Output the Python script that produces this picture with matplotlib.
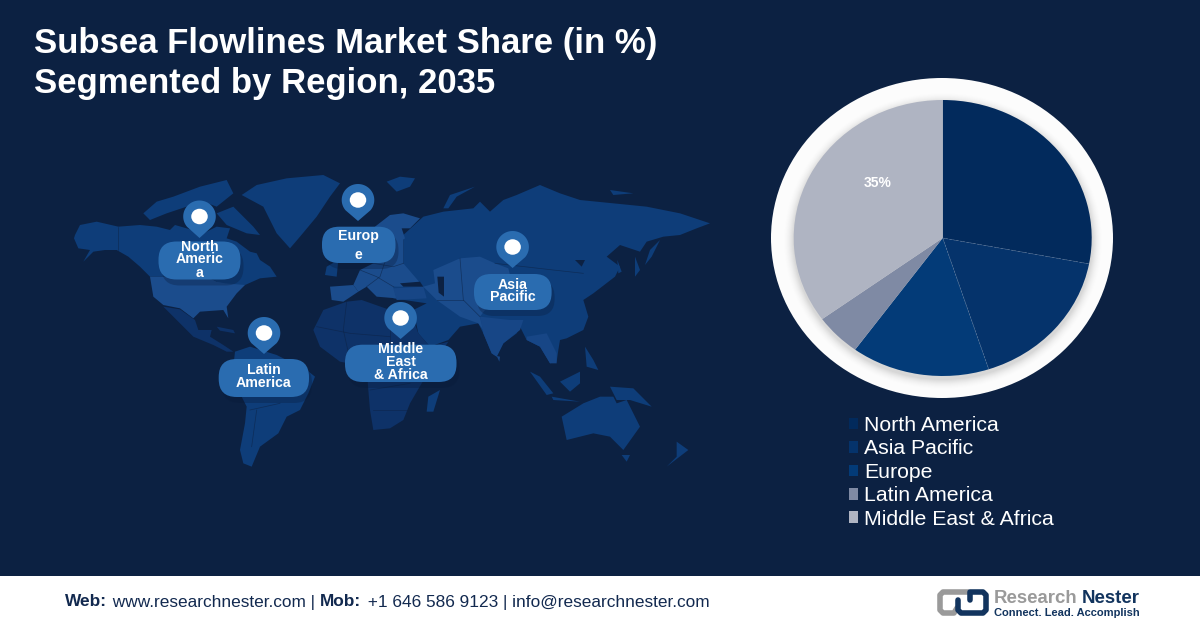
import numpy as np
import matplotlib
matplotlib.use('Agg')
import matplotlib.pyplot as plt
from matplotlib.patches import Polygon, Ellipse, FancyBboxPatch, Rectangle, Patch
from matplotlib.transforms import Affine2D

plt.rcParams['font.family'] = ['Liberation Sans', 'DejaVu Sans']

# chart data
regions = ['North America', 'Asia Pacific', 'Europe', 'Latin America', 'Middle East & Africa']
shares = [28, 17, 15, 5, 35]
colors = ['#022a5c', '#05336b', '#033b78', '#7f8aa4', '#afb4c2']

title_lines = ['Subsea Flowlines Market Share (in %)', 'Segmented by Region, 2035']

BG = '#0c2142'
LAND = '#0e3d79'
LAND2 = '#1b4c8c'
LAND3 = '#0e3268'
LAND4 = '#174686'
PIN = '#2a6cb0'
NAVY = '#12294f'

# map outlines, traced on two 3x crops: west has origin (60,170), east has origin (380,170)
west_shapes = [
    (LAND, [(45,195),(60,165),(110,155),(175,170),(240,165),(290,170),(330,180),(345,165),(380,175),(430,190),(470,170),
            (510,175),(500,205),(530,215),(570,245),(590,250),(600,270),(630,290),(650,320),(600,325),(555,345),(500,350),
            (470,335),(440,320),(270,320),(240,290),(205,260),(170,240),(135,240),(100,245),(70,275),(90,240),(55,235),(42,205)]),
    (LAND, [(250,130),(290,95),(340,80),(420,50),(500,30),(520,70),(470,110),(430,95),(380,110),(320,130),(270,150)]),
    (LAND, [(470,130),(520,110),(580,170),(600,195),(560,190),(500,165)]),
    (LAND2, [(270,320),(440,320),(470,335),(495,340),(555,345),(530,370),(500,410),(505,445),(490,420),(420,425),(400,445),
             (360,415),(310,405),(280,380)]),
    (LAND3, [(310,410),(360,418),(405,450),(415,480),(455,480),(450,500),(490,525),(520,545),(500,545),(460,525),(400,500),(350,450)]),
    (LAND3, [(470,470),(520,480),(525,490),(480,482)]),
    (LAND, [(525,545),(570,530),(650,555),(740,600),(765,620),(745,670),(720,720),(680,740),(655,790),(600,830),(575,890),
            (550,880),(540,840),(555,760),(560,710),(525,640),(520,590)]),
    (LAND, [(545,75),(590,45),(680,25),(790,15),(840,40),(810,80),(770,140),(720,200),(690,235),(650,190),(610,110)]),
]
east_shapes = [
    (LAND, [(20,35),(60,20),(105,25),(90,50),(50,65)]),
    (LAND, [(190,115),(210,75),(285,50),(230,80),(205,115)]),
    (LAND, [(690,60),(760,70),(700,75)]),
    (LAND, [(70,195),(130,140),(190,125),(280,115),(300,95),(330,125),(370,90),(410,75),(480,45),(540,70),(600,90),(700,100),
            (800,110),(900,130),(990,160),(950,175),(900,195),(850,200),(800,215),(780,245),(720,225),(680,260),(720,290),
            (705,320),(640,370),(610,390),(625,440),(610,480),(560,505),(540,510),(535,540),(530,575),(510,580),(480,530),
            (440,510),(420,470),(410,490),(370,520),(350,560),(335,550),(310,490),(295,460),(240,470),(205,510),(150,530),
            (115,490),(100,420),(140,400),(40,385),(40,350),(70,340),(70,280)]),
    (LAND3, [(-200,480),(-170,420),(-100,395),(-55,390),(30,420),(90,420),(115,490),(150,530),(205,515),(125,640),(90,700),
             (70,750),(30,775),(-20,780),(-30,720),(-35,660),(-40,590),(-120,575),(-180,530)]),
    (LAND2, [(-80,345),(-60,300),(-20,280),(-30,240),(30,230),(70,200),(70,280),(130,350),(40,350),(50,385),(-10,380),
             (-40,350),(-65,365)]),
    (LAND2, [(-150,350),(-80,345),(-65,365),(-110,395),(-145,390)]),
    (LAND, [(-160,290),(-125,270),(-130,320),(-165,315)]),
    (LAND2, [(-15,170),(30,135),(70,130),(120,145),(90,175),(65,175),(75,205),(30,235),(0,230),(-30,200)]),
    (LAND4, [(40,355),(130,350),(140,385),(50,390)]),
    (BG, [(60,340),(120,335),(130,350),(70,350)]),
    (LAND2, [(160,300),(240,265),(300,260),(345,280),(385,295),(390,315),(340,330),(330,400),(300,440),(310,480),(295,460),
             (240,440),(170,390),(130,350),(165,340)]),
    (BG, [(172,320),(192,320),(192,380),(176,368)]),
    (BG, [(585,270),(615,270),(605,290)]),
    (LAND4, [(300,440),(390,450),(430,450),(420,480),(370,520),(350,560),(335,550),(310,490)]),
    (LAND4, [(440,500),(500,490),(530,550),(530,580),(510,580),(480,530),(440,510)]),
    (LAND, [(145,680),(180,660),(160,725),(140,725)]),
    (LAND, [(545,740),(610,700),(660,680),(700,680),(710,700),(740,690),(780,770),(730,840),(690,800),(640,790),(560,810)]),
    (LAND, [(725,855),(750,855),(740,875)]),
    (LAND, [(890,815),(925,840),(860,890),(890,860)]),
    (LAND, [(450,605),(480,620),(520,670),(500,675)]),
    (LAND, [(540,635),(600,605),(600,640),(570,665)]),
    (LAND, [(515,680),(600,695),(520,690)]),
    (LAND, [(690,650),(760,655),(815,710),(750,690),(710,690)]),
    (LAND, [(615,530),(640,570),(655,600),(620,590)]),
    (LAND, [(795,285),(810,240),(840,210),(815,260)]),
    (LAND, [(765,260),(780,300),(765,320)]),
    (LAND, [(712,270),(725,305),(715,310)]),
    (LAND4, [(350,558),(360,560),(358,575)]),
]
east_borders = [
    [(-60,300),(-10,320),(40,350)], [(-40,350),(0,320),(30,230)], [(-20,280),(40,290),(70,280)],
    [(-190,470),(-90,490),(30,500)], [(-100,395),(-110,480),(-90,570)], [(30,420),(30,600)],
    [(-30,660),(90,640)], [(-20,720),(80,720)], [(240,265),(250,390),(300,440)], [(170,390),(250,390)],
    [(345,280),(520,300),(610,310)],
]
west_borders = [
    [(530,640),(640,610),(740,640)], [(570,720),(660,700)], [(575,830),(590,720)], [(175,170),(175,240)],
]

# pin position, pill box and label lines (pixel coordinates)
markers = [
    (199.5, 216.5, 238, 158.5, 241.5, 82, 38, [('North', 246.7), ('Americ', 259), ('a', 273)]),
    (358, 200, 221, 322, 226.7, 73.5, 36.3, [('Europ', 236), ('e', 254.7)]),
    (512.6, 247, 268, 474, 274, 77.6, 36, [('Asia', 284.7), ('Pacific', 297)]),
    (264, 333, 354, 218.7, 359, 90.3, 38, [('Latin', 370), ('America', 383)]),
    (400.6, 318, 339, 345, 344.7, 111.5, 37.3, [('Middle', 349), ('East', 362), ('& Africa', 375)]),
]


def draw_map(ax):
    for ox, shapes, borders in ((60, west_shapes, west_borders), (380, east_shapes, east_borders)):
        for col, pts in shapes:
            xy = [(ox + x / 3.0, 170 + y / 3.0) for x, y in pts]
            ax.add_patch(Polygon(xy, closed=True, fc=col, ec='none', zorder=1))
        for pts in borders:
            xy = np.array([(ox + x / 3.0, 170 + y / 3.0) for x, y in pts])
            ax.plot(xy[:, 0], xy[:, 1], color=BG, lw=0.5, alpha=0.6, zorder=2)


def draw_pin(ax, x, y, tip):
    t = np.radians(np.linspace(-40, 220, 50))
    verts = [(x + 16.3 * np.cos(a), y - 16 * np.sin(a)) for a in t] + [(x, tip)]
    ax.add_patch(Polygon(verts, closed=True, fc=PIN, ec='none', zorder=4))
    ax.add_patch(Ellipse((x, y), 16.5, 15.5, fc='white', ec='none', zorder=5))


def draw_pill(ax, x, y, w, h, lines):
    r = h / 2 - 1
    box = dict(boxstyle=f'round,pad={r}', ec='none')
    ax.add_patch(FancyBboxPatch((x + r, y + r), w - 2 * r, h - 2 * r, fc='#081a38', alpha=0.3, zorder=3,
                                transform=ax.transData + Affine2D().translate(3, -6), **box))
    ax.add_patch(FancyBboxPatch((x + r, y + r), w - 2 * r, h - 2 * r, fc=PIN, zorder=4, **box))
    for txt, ty in lines:
        ax.text(x + w / 2, ty, txt, color='white', fontsize=10.2, fontweight='bold',
                ha='center', va='center', zorder=6)


def draw_footer(ax):
    ax.add_patch(Rectangle((0, 576), 1200, 52, fc='white', ec='none', zorder=1))
    parts = [('Web:', True), (' www.researchnester.com |', False), ('Mob:', True),
             (' +1 646 586 9123 | info@researchnester.com', False)]
    x = 65
    renderer = ax.figure.canvas.get_renderer()
    for txt, bold in parts:
        t = ax.text(x, 602, txt, color=NAVY, fontsize=12.45, va='center',
                    fontweight='bold' if bold else 'normal', zorder=3)
        x = t.get_window_extent(renderer).x1 + (1.5 if bold else 4.5)


def draw_logo(ax):
    grey_path = [(968, 592), (943, 592), (940, 595), (940, 610), (943, 613), (954, 613), (957, 608)]
    navy_path = [(958, 600), (958, 610), (961, 613), (983, 613), (986, 610), (986, 595), (983, 592), (970, 592), (970, 600)]
    for pts, col in ((grey_path, '#9a9a9a'), (navy_path, '#12345e')):
        xy = np.array(pts)
        ax.plot(xy[:, 0], xy[:, 1], color=col, lw=4, solid_capstyle='round', solid_joinstyle='round', zorder=3)
    t = ax.text(994, 598.5, 'Research', color='#9a9a9a', fontsize=13.4, fontweight='bold', va='center', zorder=3)
    x = t.get_window_extent(ax.figure.canvas.get_renderer()).x1 + 4
    ax.text(x, 598.5, 'Nester', color='#12345e', fontsize=13.4, fontweight='bold', va='center', zorder=3)
    ax.text(994, 613.5, 'Connect. Lead. Accomplish', color='#12345e', fontsize=8, fontweight='bold',
            va='center', zorder=3)


fig = plt.figure(figsize=(12, 6.28), dpi=100, facecolor=BG)
bg = fig.add_axes([0, 0, 1, 1])
bg.set_xlim(0, 1200)
bg.set_ylim(628, 0)
bg.axis('off')
fig.canvas.draw()

draw_map(bg)
for px, py, tip, bx, by, bw, bh, lines in markers:
    draw_pill(bg, bx, by, bw, bh, lines)
    draw_pin(bg, px, py, tip)

# title
for txt, ty in zip(title_lines, (44, 83)):
    bg.text(34, ty, txt, color='white', fontsize=25, fontweight='bold', va='center')

# white ring round the pie, with a soft inner shade
cx, cy = 942, 238
bg.add_patch(Ellipse((cx, cy), 342, 320, fc='#fcfcfc', ec='none', zorder=2))
for k, a in zip(range(10, 0, -1), np.linspace(0.004, 0.025, 10)):
    bg.add_patch(Ellipse((cx + 1, cy + 3), 2 * (149 + k), 2 * (138 + k), fc='black', alpha=a, ec='none', zorder=2))

draw_footer(bg)
draw_logo(bg)

# pie, stretched to the same oval as the reference
ax = fig.add_axes([(942.7 - 149) / 1200, 1 - (238 + 138) / 628, 298 / 1200, 276 / 628])
ax.patch.set_alpha(0)
wedges, _, autotexts = ax.pie(shares, colors=colors, startangle=90, counterclock=False, radius=1,
                              autopct=lambda p: '35%' if round(p) == 35 else '',
                              textprops={'color': 'white', 'fontsize': 10, 'fontweight': 'bold'})
ax.set_aspect('auto')
ax.set_xlim(-1, 1)
ax.set_ylim(-1, 1)
autotexts[-1].set_position((-0.434, 0.40))

# faint dashed seams between the dark slices
for w in wedges[:2]:
    a = np.radians(w.theta1)
    ax.plot([0, np.cos(a)], [0, np.sin(a)], color='#6f86a8', lw=0.5, ls=(0, (3, 2)), alpha=0.5)

handles = [Patch(fc=c, ec='none') for c in colors]
fig.legend(handles, regions, loc='upper left', bbox_to_anchor=(848.5 / 1200, 1 - 416 / 628), frameon=False,
           fontsize=15.3, labelcolor='white', handlelength=0.47, handleheight=0.47, handletextpad=0.25,
           labelspacing=0.21, borderpad=0, borderaxespad=0)

fig.savefig('out.png', dpi=100, facecolor=BG)
